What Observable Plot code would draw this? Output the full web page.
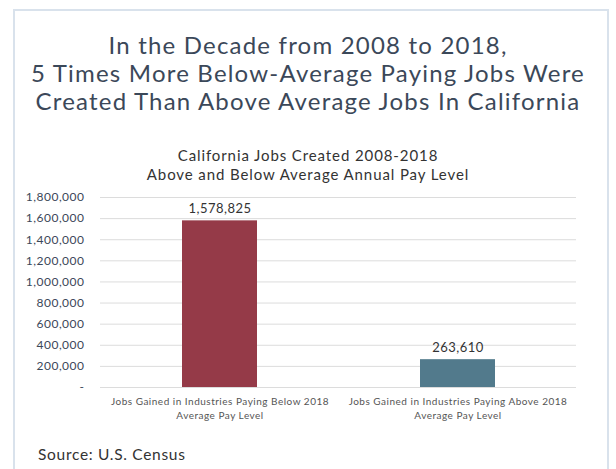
<!DOCTYPE html>
<html><head><meta charset="utf-8">
<script src="https://cdn.jsdelivr.net/npm/d3@7"></script>
<script src="https://cdn.jsdelivr.net/npm/@observablehq/plot@0.6"></script>
<style>
body{margin:0;background:#fff;font-family:Lato,"Open Sans",sans-serif;}
#wrap{position:absolute;left:0;top:0;width:616px;height:469px;overflow:hidden;}
#frame{position:absolute;left:13px;top:9px;width:596px;height:480px;border:2px solid #d9e2ec;box-sizing:border-box;}
.t{position:absolute;left:0;width:616px;text-align:center;font-size:24px;line-height:28px;height:28px;letter-spacing:1.2px;color:#3b4859;}
.s{position:absolute;left:0;width:616px;text-align:center;font-size:15px;line-height:18px;height:18px;letter-spacing:0.9px;color:#333;}
#chart{position:absolute;left:0;top:185px;}
#source{position:absolute;left:38px;top:445px;font-size:15.5px;letter-spacing:0.7px;color:#333;}
</style></head>
<body><div id="wrap">
<div id="frame"></div>
<div class="t" style="top:31px">In the Decade from 2008 to 2018,</div>
<div class="t" style="top:59px">5 Times More Below-Average Paying Jobs Were</div>
<div class="t" style="top:87px">Created Than Above Average Jobs In California</div>
<div class="s" style="top:146px">California Jobs Created 2008-2018</div>
<div class="s" style="top:165px">Above and Below Average Annual Pay Level</div>
<div id="chart"></div>
<div id="source">Source: U.S. Census</div>
</div>
<script>
const categories = ["Jobs Gained in Industries Paying Below 2018\nAverage Pay Level", "Jobs Gained in Industries Paying Above 2018\nAverage Pay Level"];
const values = [1578825, 263610];
const colors = ["#953a48", "#527a8c"];
const yTicks = [0, 200000, 400000, 600000, 800000, 1000000, 1200000, 1400000, 1600000, 1800000];

const data = categories.map((c, i) => ({cat: c, value: values[i], color: colors[i]}));
const fmt = d3.format(",");

const chart = Plot.plot({
  width: 616, height: 240,
  marginLeft: 100, marginRight: 40, marginTop: 12, marginBottom: 38,
  style: "font-family: Lato, 'Open Sans', sans-serif; letter-spacing: 0.5px; background: transparent;",
  x: {domain: categories, paddingInner: 0.685, paddingOuter: 0.3425, label: null},
  y: {domain: [0, 1800000], label: null},
  marks: [
    Plot.gridY(yTicks, {stroke: "#dcdcdc", strokeOpacity: 1, strokeWidth: 1}),
    Plot.barY(data, {x: "cat", y: "value", fill: "color"}),
    Plot.text(data, {x: "cat", y: "value", text: d => fmt(d.value), dy: -12, fontSize: 13, fill: "#333"}),
    Plot.axisY(yTicks, {tickSize: 0, tickPadding: 16, fontSize: 12, color: "#3b4859", tickFormat: d => d === 0 ? "-" : fmt(d), label: null}),
    Plot.axisX({tickSize: 0, tickPadding: 8, fontSize: 10, color: "#555", label: null, lineHeight: 1.35})
  ]
});
document.getElementById("chart").appendChild(chart);
</script>
</body></html>
